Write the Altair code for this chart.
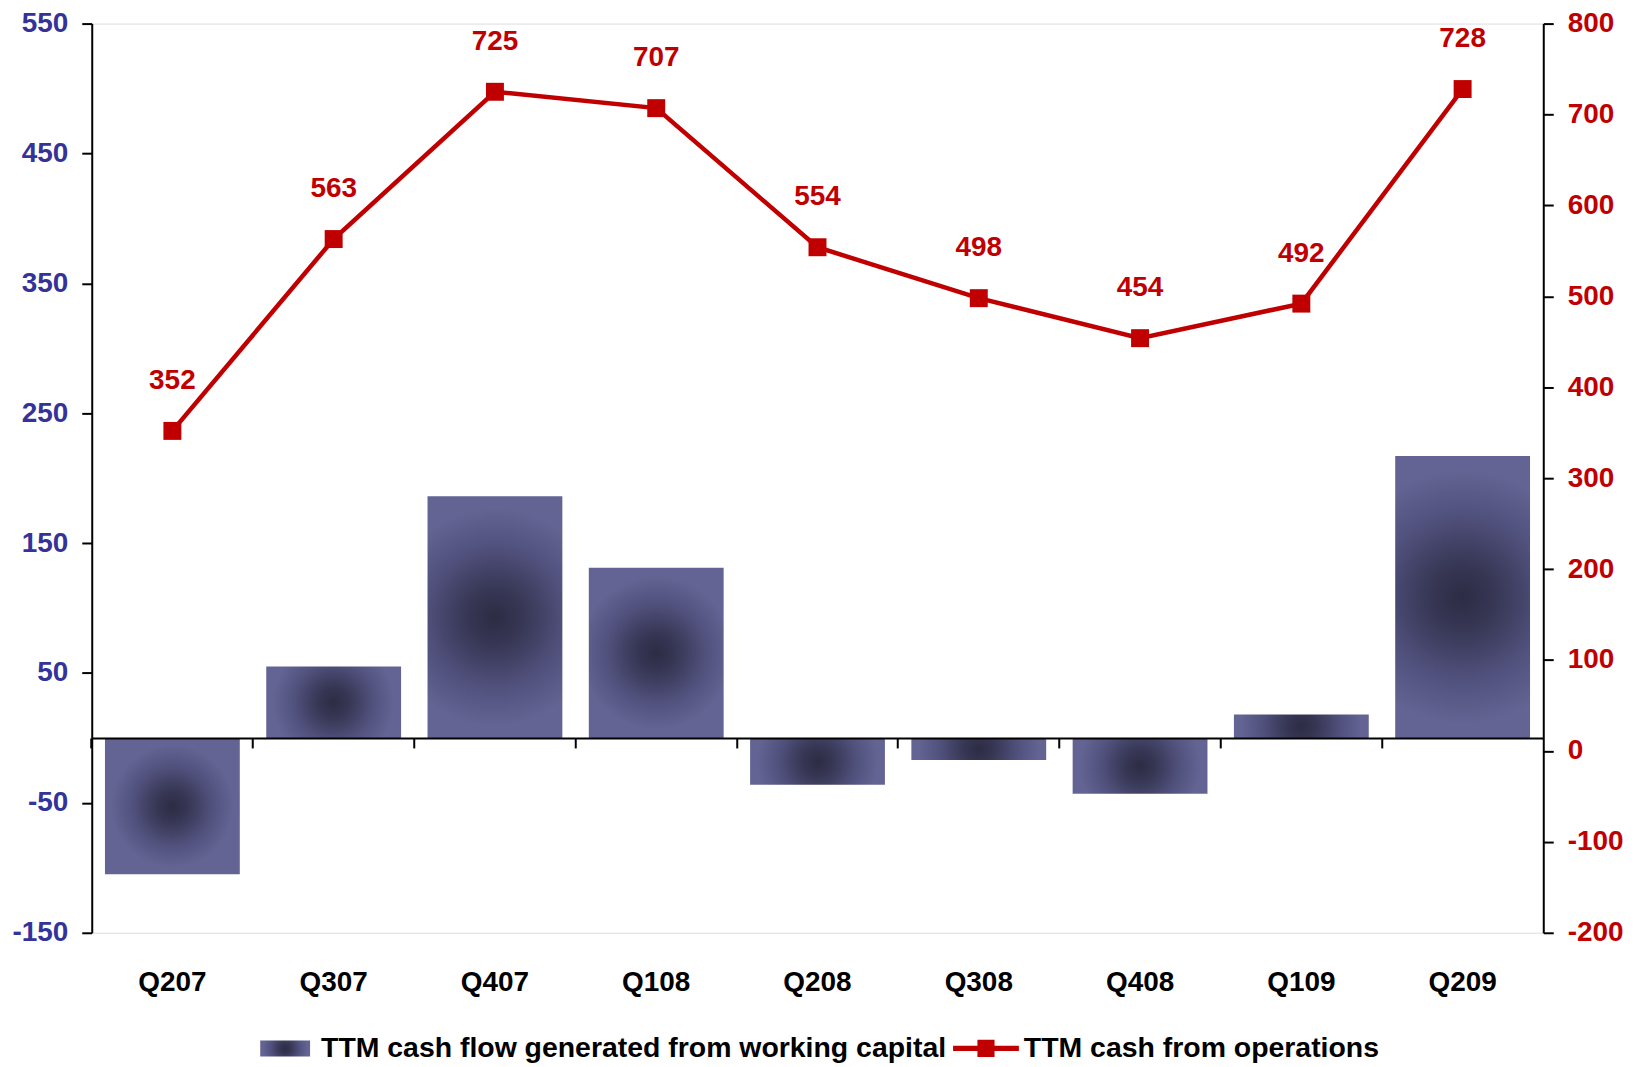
import altair as alt
import pandas as pd

quarters = ["Q207", "Q307", "Q407", "Q108", "Q208", "Q308", "Q408", "Q109", "Q209"]
working_capital = [-105, 55, 186, 131, -36, -17, -43, 18, 217]
operations = [352, 563, 725, 707, 554, 498, 454, 492, 728]
series_bar = "TTM cash flow generated from working capital"
series_line = "TTM cash from operations"
left_ticks = [-150, -50, 50, 150, 250, 350, 450, 550]
right_ticks = [-200, -100, 0, 100, 200, 300, 400, 500, 600, 700, 800]

df = pd.DataFrame({
    "quarter": quarters,
    "wc": working_capital,
    "ops": operations,
    "s1": [series_bar] * len(quarters),
    "s2": [series_line] * len(quarters),
})

W, H = 1456, 912
FONT = "Liberation Sans"
RED = "#c00000"
NAVY = "#333399"
LMIN, LMAX = -150, 550
RMIN, RMAX = -200, 800
P_INNER = 0.164
zero_offset = -(H * (0 - LMIN) / (LMAX - LMIN))
HYPHEN = "replace(datum.label, '\u2212', '-')"

xscale = alt.Scale(paddingInner=P_INNER, paddingOuter=P_INNER / 2)
xaxis = alt.Axis(
    title=None, labelAngle=0, bandPosition=-(P_INNER / 2) / (1 - P_INNER),
    offset=zero_offset, labelPadding=221,
    tickSize=10, tickWidth=2, tickColor="black", domainColor="black", domainWidth=2,
    labelFont=FONT, labelFontSize=28, labelFontWeight="bold", labelColor="black",
    grid=False, zindex=1,
)
X = alt.X("quarter:N", sort=quarters, scale=xscale, axis=xaxis)

grad = alt.RadialGradient(
    gradient="radial",
    stops=[
        alt.GradientStop(offset=0, color="#2c2c44"),
        alt.GradientStop(offset=0.25, color="#383857"),
        alt.GradientStop(offset=0.6, color="#52527f"),
        alt.GradientStop(offset=0.9, color="#646494"),
        alt.GradientStop(offset=1, color="#646494"),
    ],
    x1=0.5, y1=0.5, r1=0, x2=0.5, y2=0.5, r2=0.5,
)

bars = alt.Chart(df).mark_bar(color=grad, strokeWidth=0).encode(
    x=X,
    y=alt.Y("wc:Q", scale=alt.Scale(domain=[LMIN, LMAX], nice=False, zero=False),
            axis=alt.Axis(title=None, orient="left", values=left_ticks, tickSize=10,
                          tickColor="black", domainColor="black", domainWidth=2, tickWidth=2,
                          labelFont=FONT, labelFontSize=28, labelFontWeight="bold",
                          labelColor=NAVY, labelPadding=14, grid=False, labelExpr=HYPHEN)),
    opacity=alt.Opacity("s1:N", scale=alt.Scale(range=[1]),
                        legend=alt.Legend(title=None, orient="none", legendX=169, legendY=1003,
                                          symbolType="M-1,-0.32H1V0.32H-1Z", symbolSize=2500,
                                          symbolStrokeWidth=0, labelFont=FONT, labelFontSize=28.5,
                                          labelFontWeight="bold", labelColor="black",
                                          labelOffset=11, labelLimit=1000)),
)

yr = alt.Scale(domain=[RMIN, RMAX], nice=False, zero=False)
yright = alt.Y("ops:Q", scale=yr,
               axis=alt.Axis(title=None, orient="right", values=right_ticks, tickSize=10,
                             tickColor="black", domainColor="black", domainWidth=2, tickWidth=2,
                             labelFont=FONT, labelFontSize=28, labelFontWeight="bold",
                             labelColor=RED, labelPadding=14, grid=False, labelExpr=HYPHEN))

line = alt.Chart(df).mark_line(color=RED, strokeWidth=4.5).encode(x=X, y=yright)
squares = alt.Chart(df).mark_square(color=RED, size=324, opacity=1).encode(
    x=X, y=yright,
    opacity=alt.Opacity("s2:N", scale=alt.Scale(range=[1]),
                        legend=alt.Legend(title=None, orient="none", legendX=864, legendY=995,
                                          symbolType="M-1,-0.08H1V0.08H-1Z M-0.26,-0.26H0.26V0.26H-0.26Z",
                                          symbolSize=4356, symbolStrokeWidth=0,
                                          labelFont=FONT, labelFontSize=28.5,
                                          labelFontWeight="bold", labelColor="black",
                                          labelOffset=5, labelLimit=1000)),
)
labels = alt.Chart(df).mark_text(color=RED, font=FONT, fontSize=28, fontWeight="bold",
                                 dy=-50, baseline="middle").encode(
    x=X, y=yright, text=alt.Text("ops:Q"))

left_group = alt.layer(bars)
right_group = alt.layer(line, squares, labels)

chart = alt.layer(left_group, right_group).resolve_scale(
    y="independent", opacity="independent"
).resolve_legend(opacity="independent").properties(
    width=W, height=H,
    autosize=alt.AutoSizeParams(type="none"),
    padding={"left": 84, "top": 14, "right": 84, "bottom": 133},
).configure_view(stroke=None).configure(background="white")

chart.save("out.html", embed_options={"renderer": "svg", "actions": False})
